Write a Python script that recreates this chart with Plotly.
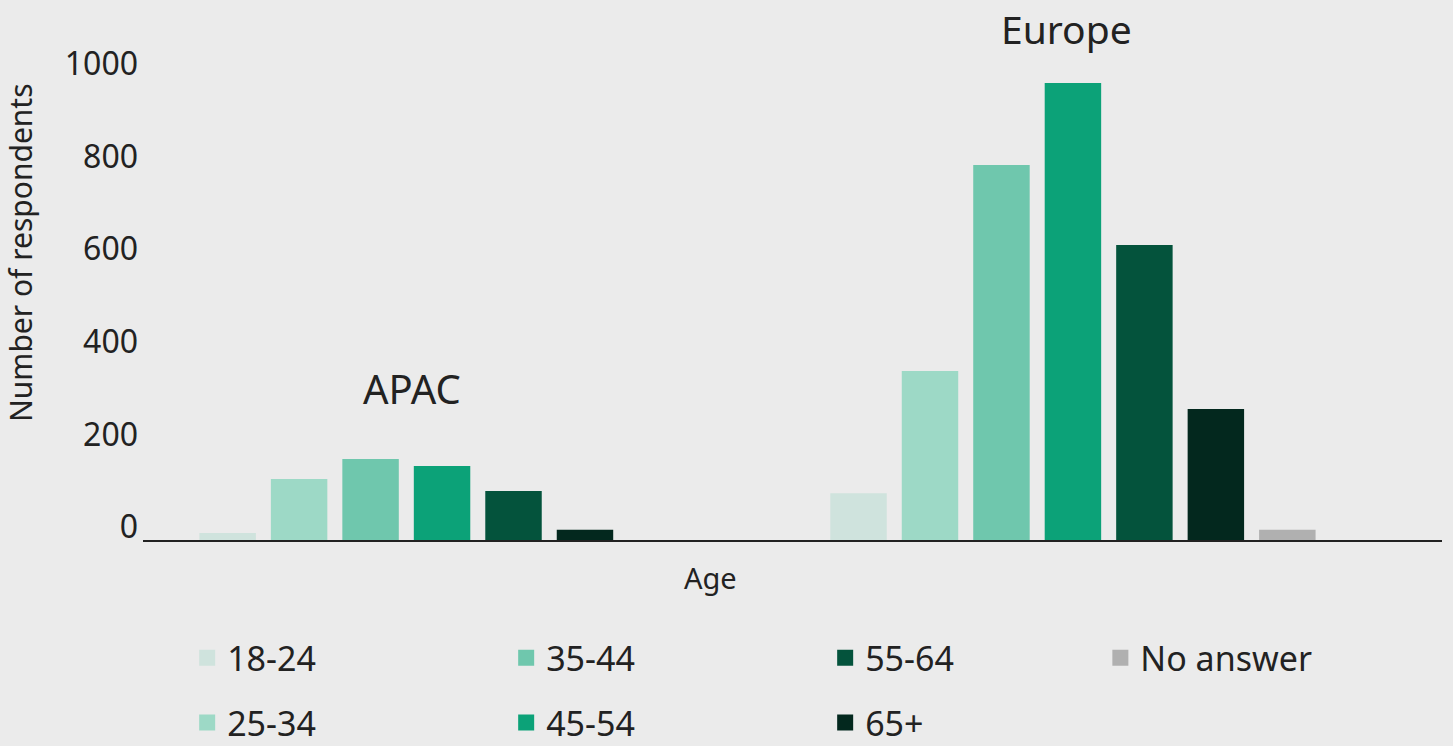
import plotly.graph_objects as go

regions = ["APAC", "Europe"]
age_groups = ["18-24", "25-34", "35-44", "45-54", "55-64", "65+", "No answer"]
apac_values = [15, 132, 175, 160, 106, 22, None]
europe_values = [101, 365, 810, 987, 637, 283, 22]
colors = ["#cfe3dd", "#9dd9c6", "#6fc7ad", "#0ca278", "#04533c", "#03281e", "#b0b0b0"]
y_ticks = [0, 200, 400, 600, 800, 1000]

row1 = ["18-24", "35-44", "55-64"]
row2 = ["25-34", "45-54", "65+"]

BG = "#ebebeb"
TXT = "#222222"
FONT = "Noto Sans"

fig = go.Figure()
for i, age in enumerate(age_groups):
    fig.add_trace(go.Bar(
        x=regions, y=[apac_values[i], europe_values[i]], name=age,
        marker=dict(color=colors[i], line=dict(width=0)),
        showlegend=False,
    ))

for i, age in enumerate(age_groups):
    if age in row1:
        lg = "legend"
    elif age in row2:
        lg = "legend2"
    else:
        lg = "legend3"
    fig.add_trace(go.Scatter(
        x=[None], y=[None], mode="markers", name=age,
        marker=dict(symbol="square", size=16, color=colors[i]),
        legend=lg, showlegend=True, hoverinfo="skip",
    ))

legend_common = dict(
    orientation="h", font=dict(family=FONT, size=34, color=TXT),
    bgcolor="rgba(0,0,0,0)", entrywidth=274, entrywidthmode="pixels",
    xanchor="left", yanchor="middle", itemclick=False,
)

fig.update_layout(
    width=1453, height=746,
    margin=dict(l=143, r=11, t=64, b=206, autoexpand=False),
    paper_bgcolor=BG, plot_bgcolor=BG,
    font=dict(family=FONT, color=TXT),
    barmode="group", bargap=0.207, bargroupgap=0.21,
    legend=dict(x=0.034, y=-0.248, **legend_common),
    legend2=dict(x=0.034, y=-0.384, **legend_common),
    legend3=dict(x=0.737, y=-0.248, **legend_common),
    xaxis=dict(
        type="category", range=[-0.474, 1.585], showticklabels=False,
        showgrid=False, zeroline=False, showline=True, linecolor="#222222",
        linewidth=2, ticks="",
    ),
    yaxis=dict(
        range=[0, 1028], tickvals=y_ticks, showgrid=False, zeroline=False,
        showline=False, ticks="", ticklabelshift=-13, ticklabelstandoff=4,
        tickfont=dict(family=FONT, size=32, color=TXT),
    ),
    annotations=[
        dict(text="APAC", xref="paper", yref="paper", x=0.2071, y=0.318,
             showarrow=False, font=dict(family=FONT, size=40, color=TXT),
             xanchor="center", yanchor="middle"),
        dict(text="Europe", xref="paper", yref="paper", x=0.7113, y=1.0756,
             showarrow=False, font=dict(family=FONT, size=39, color=TXT),
             xanchor="center", yanchor="middle"),
        dict(text="Age", xref="paper", yref="paper", x=0.4365, y=-0.0798,
             showarrow=False, font=dict(family=FONT, size=29, color=TXT),
             xanchor="center", yanchor="middle"),
        dict(text="Number of respondents", xref="paper", yref="paper",
             x=-0.0947, y=0.605, textangle=-90, showarrow=False,
             font=dict(family=FONT, size=30, color=TXT),
             xanchor="center", yanchor="middle"),
    ],
)

fig.write_html(
    "out.html",
    config={"displayModeBar": False},
    post_script="document.body.style.margin='0';document.body.style.overflow='hidden';",
)
